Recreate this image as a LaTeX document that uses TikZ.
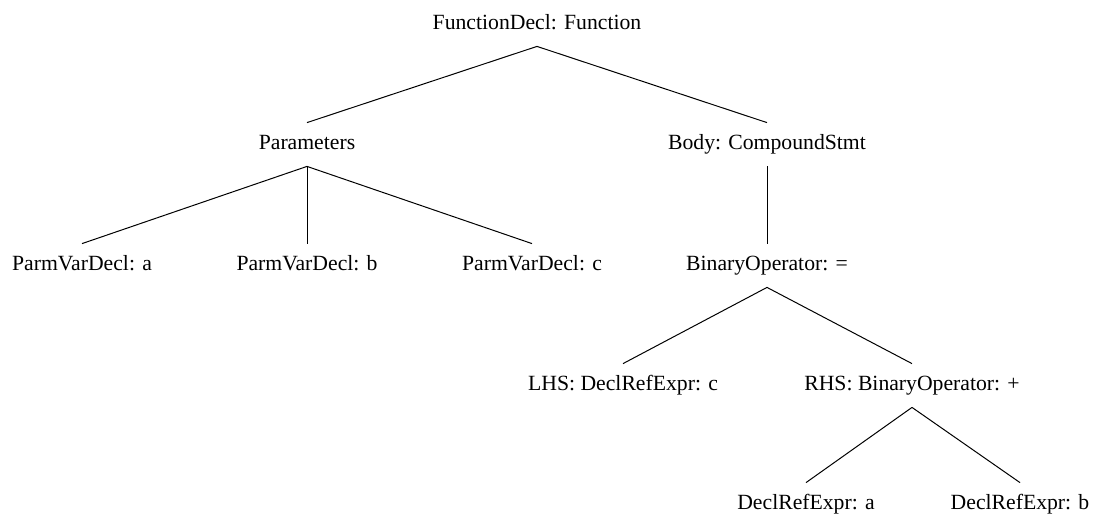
\documentclass[tikz,border=0pt]{standalone}
\usepackage{fontspec}
\setmainfont{Liberation Serif}
\begin{document}
\begin{tikzpicture}[x=0.5pt,y=-0.5pt,
  treenode/.style={anchor=base,inner sep=0pt,text height=13pt,text depth=8.5pt,
    font=\fontsize{10.85}{13}\selectfont},
  edge/.style={draw=black,line width=0.5pt}]
\useasboundingbox (0,0) rectangle (1093,515);
\node[treenode] (root) at (537,29) {FunctionDecl: Function};
\node[treenode] (params) at (307,149) {Parameters};
\node[treenode] (body) at (767,149) {Body: CompoundStmt};
\node[treenode] (pa) at (82,270) {ParmVarDecl: a};
\node[treenode] (pb) at (307,270) {ParmVarDecl: b};
\node[treenode] (pc) at (532,270) {ParmVarDecl: c};
\node[treenode] (binop) at (767,270) {BinaryOperator: =};
\node[treenode] (lhs) at (623,390) {LHS: DeclRefExpr: c};
\node[treenode] (rhs) at (912,390) {RHS: BinaryOperator: +};
\node[treenode] (da) at (806,509) {DeclRefExpr: a};
\node[treenode] (db) at (1020,509) {DeclRefExpr: b};
\draw[edge] (root.south) -- (params.north);
\draw[edge] (root.south) -- (body.north);
\draw[edge] (params.south) -- (pa.north);
\draw[edge] (params.south) -- (pb.north);
\draw[edge] (params.south) -- (pc.north);
\draw[edge] (body.south) -- (binop.north);
\draw[edge] (binop.south) -- (lhs.north);
\draw[edge] (binop.south) -- (rhs.north);
\draw[edge] (rhs.south) -- (da.north);
\draw[edge] (rhs.south) -- (db.north);
\end{tikzpicture}
\end{document}
